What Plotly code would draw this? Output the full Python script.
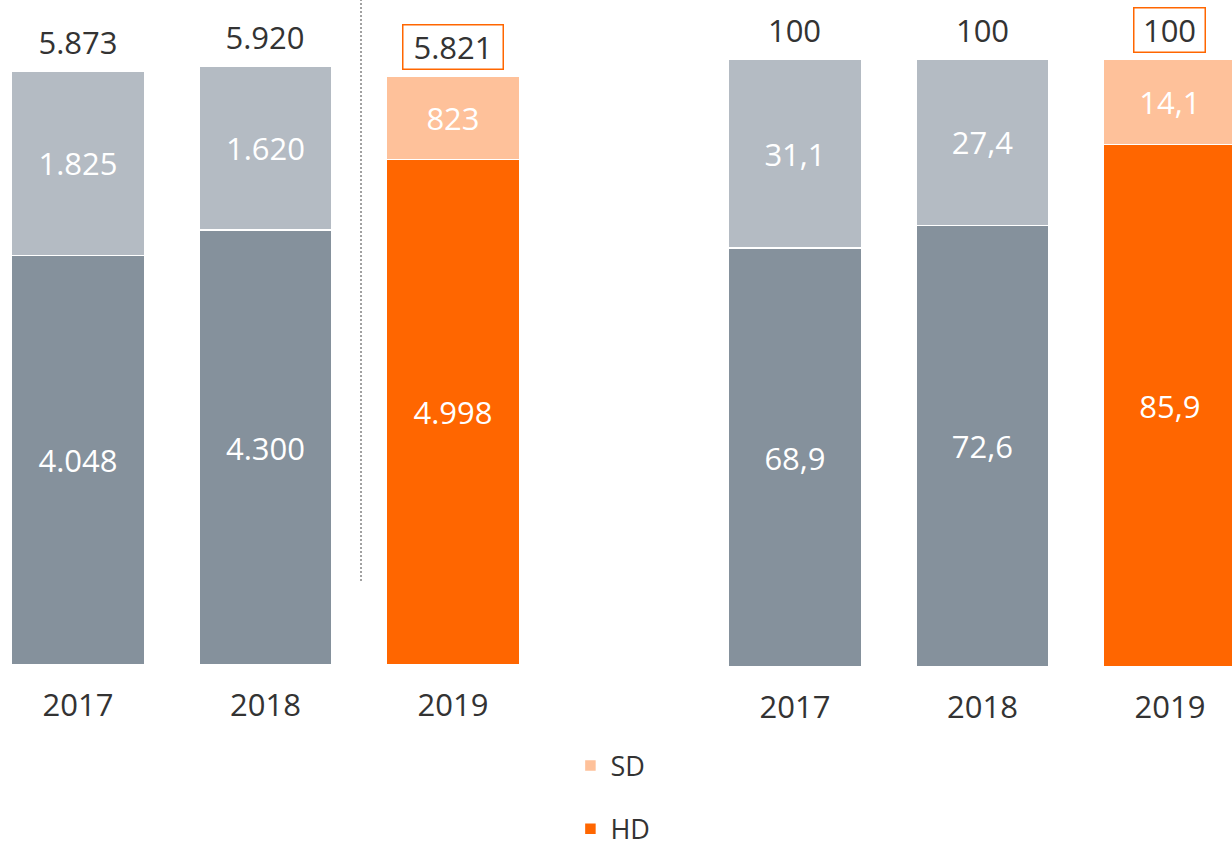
import plotly.graph_objects as go

years = ["2017", "2018", "2019"]
# absolute values (left panel)
hd_abs = [4048, 4300, 4998]
sd_abs = [1825, 1620, 823]
tot_abs = [5873, 5920, 5821]
# shares in % (right panel)
hd_pct = [68.9, 72.6, 85.9]
sd_pct = [31.1, 27.4, 14.1]
tot_pct = [100, 100, 100]

grey_dark = "#85919C"
grey_light = "#B4BBC3"
orange = "#FF6600"
orange_light = "#FEC19A"
txt = "#333333"
FONT = "Open Sans"

fig = go.Figure()


def add_bars(hd, sd, xa, ya, fmt, legend):
    # 2017/2018 in grey, 2019 in orange
    for idx, c_lo, c_hi, show in [([0, 1], grey_dark, grey_light, False),
                                  ([2], orange, orange_light, legend)]:
        xs = [years[i] for i in idx]
        fig.add_trace(go.Bar(
            x=xs, y=[hd[i] for i in idx], name="HD", legendgroup="HD",
            showlegend=show, legendrank=2,
            marker=dict(color=c_lo, line=dict(color="white", width=1.5)),
            width=0.71, texttemplate=fmt, textposition="inside",
            insidetextanchor="middle",
            textfont=dict(color="white", size=31, family=FONT),
            xaxis=xa, yaxis=ya, hoverinfo="skip"))
        fig.add_trace(go.Bar(
            x=xs, y=[sd[i] for i in idx], name="SD", legendgroup="SD",
            showlegend=show, legendrank=1,
            marker=dict(color=c_hi, line=dict(color="white", width=1.5)),
            width=0.71, texttemplate=fmt, textposition="inside",
            insidetextanchor="middle",
            textfont=dict(color="white", size=31, family=FONT),
            xaxis=xa, yaxis=ya, hoverinfo="skip"))


add_bars(hd_abs, sd_abs, "x", "y", "%{y:,}", True)
add_bars(hd_pct, sd_pct, "x2", "y2", "%{y:.1f}", False)

# totals above the bars, 2019 framed in orange
annotations = []
for i in range(len(years)):
    for xr, yr, tot, lab, w in [("x", "y", tot_abs[i], f"{tot_abs[i]:,}".replace(",", "."), 95),
                                ("x2", "y2", tot_pct[i], str(tot_pct[i]), 66)]:
        annotations.append(dict(
            x=i, y=tot, xref=xr, yref=yr, text=lab, showarrow=False,
            yanchor="bottom", yshift=6, width=w, height=39,
            font=dict(size=31, color=txt, family=FONT),
            bordercolor=orange if i == 2 else "rgba(0,0,0,0)",
            borderwidth=1.5, borderpad=2))

fig.update_layout(
    width=1232, height=843,
    margin=dict(l=0, r=0, t=0, b=0, autoexpand=False),
    paper_bgcolor="white", plot_bgcolor="white",
    barmode="stack", separators=",.",
    font=dict(family=FONT, color=txt),
    xaxis=dict(domain=[0, 0.45], range=[-0.416, 2.541], type="category",
               showgrid=False, showline=False, zeroline=False,
               ticks="outside", ticklen=13, tickcolor="rgba(0,0,0,0)",
               tickfont=dict(size=31, color=txt, family=FONT), anchor="y"),
    yaxis=dict(domain=[0.2112, 1], range=[0, 6575], visible=False),
    xaxis2=dict(domain=[0.55, 1], range=[-0.626, 2.331], type="category",
                showgrid=False, showline=False, zeroline=False,
                ticks="outside", ticklen=13, tickcolor="rgba(0,0,0,0)",
                tickfont=dict(size=31, color=txt, family=FONT), anchor="y2"),
    yaxis2=dict(domain=[0.2088, 1], range=[0, 109.7], visible=False),
    legend=dict(x=0.463, y=0.054, xanchor="left", yanchor="middle",
                traceorder="grouped", tracegroupgap=25,
                font=dict(size=27, color=txt, family=FONT),
                bgcolor="rgba(0,0,0,0)"),
    annotations=annotations,
    shapes=[dict(type="line", xref="paper", yref="paper",
                 x0=361 / 1232, x1=361 / 1232, y0=(843 - 581) / 843, y1=1,
                 line=dict(color="#444444", width=1, dash="2px,2px"))],
    showlegend=True,
)

# drop the default page margin so the figure sits at the window's corner
fig.write_html("out.html", post_script="document.body.style.margin='0';",
               config={"displayModeBar": False})
